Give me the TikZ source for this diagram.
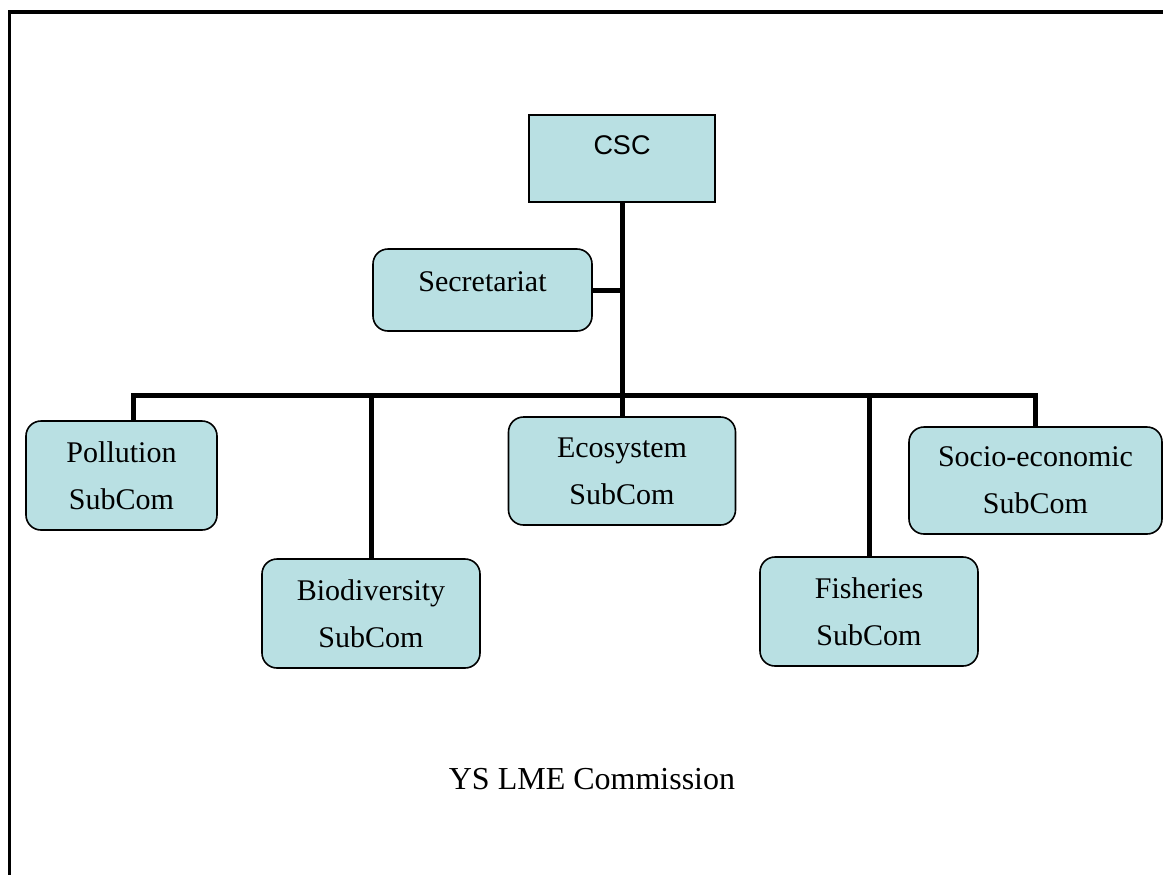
\documentclass[tikz,border=0pt]{standalone}
\usepackage{fontspec}
\setmainfont{Liberation Serif}
\newfontfamily\boxsans{Liberation Sans}
\usepackage{xcolor}
\definecolor{paleblue}{HTML}{B9E0E3}
\tikzstyle{box}=[draw=black, line width=0.8pt, fill=paleblue, inner sep=2pt, outer sep=0pt]
\tikzstyle{sub}=[box, rounded corners=7.5pt, align=center, font=\fontsize{15}{23.5}\selectfont]
\tikzstyle{connect}=[line width=2.5pt, black]
\tikzstyle{frame}=[line width=1.6pt, black]

\begin{document}
\begin{tikzpicture}[x=0.5pt, y=-0.5pt]
      \useasboundingbox (0, 0) rectangle (1163, 875);

      % FRAME
      \draw[frame] (1163, 12) -- (9.5, 12) -- (9.5, 875);

      % TOP
      \node[box, minimum width=93pt, minimum height=43.5pt, text depth=13pt,
            font=\boxsans\fontsize{13.5}{15}\selectfont] (csc) at (622, 158.5) {CSC};
      \node[sub, minimum width=109.5pt, minimum height=41pt, text depth=8pt]
        (sec) at (482.5, 290) {Secretariat};

      % SUBCOMMITTEES
      \node[sub, minimum width=95.5pt, minimum height=54.5pt] (pol) at (121.5, 475.5) {Pollution\\SubCom};
      \node[sub, minimum width=109pt,  minimum height=54.5pt] (bio) at (371, 613.5) {Biodiversity\\SubCom};
      \node[sub, minimum width=113.5pt, minimum height=54pt] (eco) at (622, 471) {Ecosystem\\SubCom};
      \node[sub, minimum width=109pt,  minimum height=54.5pt] (fish) at (869, 611.5) {Fisheries\\SubCom};
      \node[sub, minimum width=126.5pt, minimum height=53.5pt] (soc) at (1035.5, 480.5) {Socio-economic\\SubCom};

      % CONNECTORS
      \coordinate (bus) at (622, 395);
      \coordinate (pol top) at ([xshift=6pt]pol.north);
      \draw[connect] (csc) -- (eco);
      \draw[connect] (sec.east) -- (sec.east -| csc.south);
      \draw[connect] (pol top) |- (bus) -| (soc.north);
      \draw[connect] (bio.north) -- (bio.north |- bus);
      \draw[connect] (fish.north) -- (fish.north |- bus);

      % TITLE
      \node[font=\fontsize{16}{19}\selectfont] (title) at (592, 779) {YS LME Commission};
\end{tikzpicture}
\end{document}
